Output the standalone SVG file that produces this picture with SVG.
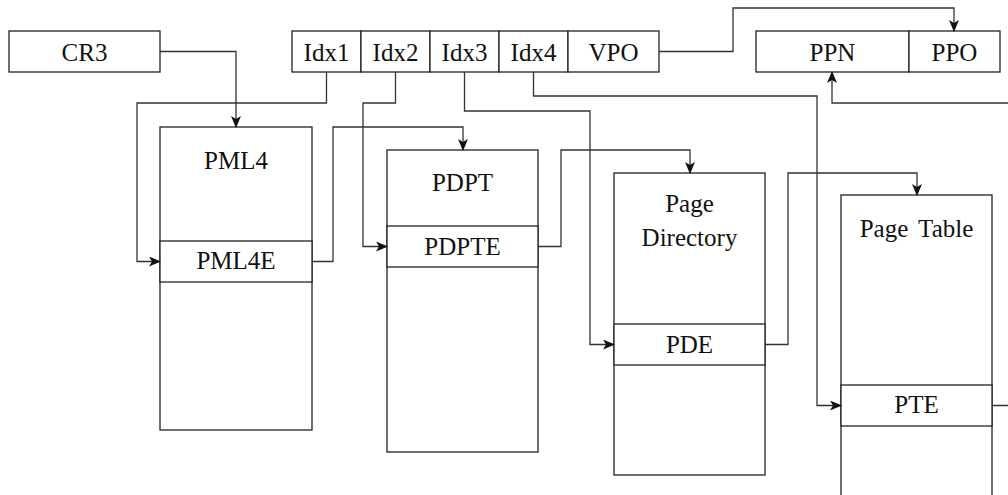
<svg xmlns="http://www.w3.org/2000/svg" width="1008" height="495" viewBox="0 0 1008 495">
<style>
.b{fill:#fff;stroke:#222;stroke-width:1.3}
.t{font-family:"Liberation Serif","DejaVu Serif",serif;font-size:25px;fill:#111;text-anchor:middle}
.c{fill:none;stroke:#333;stroke-width:1.3}
</style>
<defs>
<marker id="a" viewBox="0 0 12 10" refX="11" refY="5" markerWidth="12" markerHeight="10" markerUnits="userSpaceOnUse" orient="auto">
<path d="M0,0 L12,5 L0,10 L3,5 Z" fill="#111"/>
</marker>
</defs>
<g id="cr3"><rect class="b" x="9" y="31" width="151" height="41"/><text class="t" x="84.5" y="61">CR3</text></g>
<g id="vaddr">
<rect class="b" x="292" y="31" width="69" height="41"/><text class="t" x="326.5" y="61">Idx1</text>
<rect class="b" x="361" y="31" width="69" height="41"/><text class="t" x="395.5" y="61">Idx2</text>
<rect class="b" x="430" y="31" width="69" height="41"/><text class="t" x="464.5" y="61">Idx3</text>
<rect class="b" x="499" y="31" width="69" height="41"/><text class="t" x="533.5" y="61">Idx4</text>
<rect class="b" x="568" y="31" width="91" height="41"/><text class="t" x="613.5" y="61">VPO</text>
</g>
<g id="paddr">
<rect class="b" x="756" y="31" width="153" height="41"/><text class="t" x="832.5" y="61">PPN</text>
<rect class="b" x="909" y="31" width="91" height="41"/><text class="t" x="954.5" y="61">PPO</text>
</g>
<g id="pml4">
<rect class="b" x="160" y="127" width="152" height="303"/><text class="t" x="236" y="169">PML4</text>
<rect class="b" x="160" y="241" width="152" height="41"/><text class="t" x="236" y="269">PML4E</text>
</g>
<g id="pdpt">
<rect class="b" x="387" y="150" width="151" height="302"/><text class="t" x="462.5" y="191">PDPT</text>
<rect class="b" x="387" y="226" width="151" height="41"/><text class="t" x="462.5" y="255">PDPTE</text>
</g>
<g id="pd">
<rect class="b" x="614" y="173" width="151" height="302"/><text class="t" x="689.5" y="212">Page</text><text class="t" x="689.5" y="246">Directory</text>
<rect class="b" x="614" y="324" width="151" height="41"/><text class="t" x="689.5" y="353">PDE</text>
</g>
<g id="pt">
<rect class="b" x="841" y="195" width="151" height="320"/><text class="t" x="916.5" y="237" word-spacing="4">Page Table</text>
<rect class="b" x="841" y="385" width="151" height="41"/><text class="t" x="916.5" y="413">PTE</text>
</g>
<g id="connectors">
<path class="c" d="M160,51.5 H236 V127" marker-end="url(#a)"/>
<path class="c" d="M326.5,72 V103 H137 V261.5 H160" marker-end="url(#a)"/>
<path class="c" d="M312,261.5 H333 V127 H463 V150" marker-end="url(#a)"/>
<path class="c" d="M395.5,72 V103 H363 V246.5 H387" marker-end="url(#a)"/>
<path class="c" d="M538,246.5 H561 V150 H690 V173" marker-end="url(#a)"/>
<path class="c" d="M464.5,72 V111 H590 V344.5 H614" marker-end="url(#a)"/>
<path class="c" d="M765,344.5 H788 V173 H917 V195" marker-end="url(#a)"/>
<path class="c" d="M533.5,72 V96 H817 V405.5 H841" marker-end="url(#a)"/>
<path class="c" d="M992,405.5 H1020 V103 H832 V72" marker-end="url(#a)"/>
<path class="c" d="M659,51.5 H733 V8 H954 V31" marker-end="url(#a)"/>
</g>
</svg>
